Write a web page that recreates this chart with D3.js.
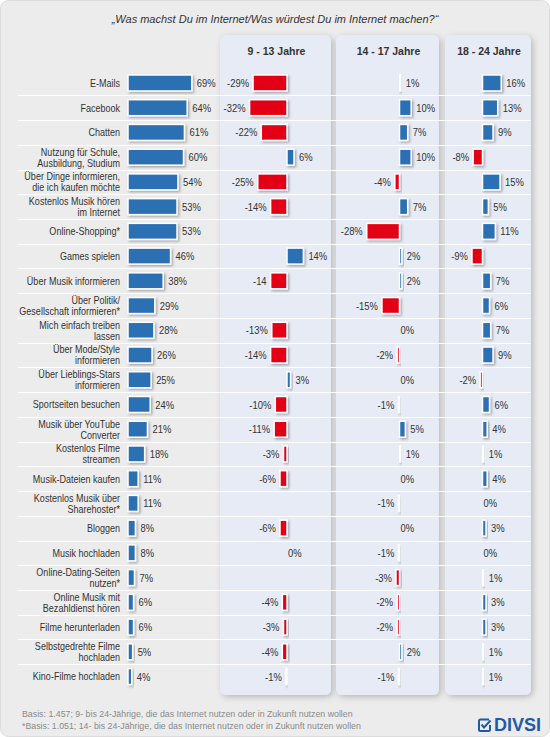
<!DOCTYPE html>
<html>
<head>
<meta charset="utf-8">
<script src="https://cdn.jsdelivr.net/npm/d3@7"></script>
<style>
  body { margin: 0; background: #fff; }
  text { font-family: "Liberation Sans", Arial, sans-serif; fill: #333; }
</style>
</head>
<body>
<svg width="550" height="737"></svg>
<script>
// Data
let activities = [
    'E-Mails', 'Facebook', 'Chatten', 'Nutzung für Schule,\nAusbildung, Studium',
    'Über Dinge informieren,\ndie ich kaufen möchte', 'Kostenlos Musik hören\nim Internet',
    'Online-Shopping*', 'Games spielen', 'Über Musik informieren',
    'Über Politik/\nGesellschaft informieren*', 'Mich einfach treiben\nlassen',
    'Über Mode/Style\ninformieren', 'Über Lieblings-Stars\ninformieren', 'Sportseiten besuchen',
    'Musik über YouTube\nConverter', 'Kostenlos Filme\nstreamen', 'Musik-Dateien kaufen',
    'Kostenlos Musik über\nSharehoster*', 'Bloggen', 'Musik hochladen',
    'Online-Dating-Seiten\nnutzen*', 'Online Musik mit\nBezahldienst hören', 'Filme herunterladen',
    'Selbstgedrehte Filme\nhochladen', 'Kino-Filme hochladen'
]
let total = [69, 64, 61, 60, 54, 53, 53, 46, 38, 29, 28, 26, 25, 24, 21, 18, 11, 11, 8, 8, 7, 6, 6, 5, 4]
let age9to13 = [-29, -32, -22, 6, -25, -14, null, 14, -14, null, -13, -14, 3, -10, -11, -3, -6, null, -6, 0, null, -4, -3, -4, -1]
let age14to17 = [1, 10, 7, 10, -4, 7, -28, 2, 2, -15, 0, -2, 0, -1, 5, 1, 0, -1, 0, -1, -3, -2, -2, 2, -1]
let age18to24 = [16, 13, 9, -8, 15, 5, 11, -9, 7, 6, 7, 9, -2, 6, 4, 1, 4, 0, 3, 0, 1, 3, 3, 1, 1]
let groupNames = ['9 - 13 Jahre', '14 - 17 Jahre', '18 - 24 Jahre']
// the source prints this one value without a percent sign
let noPercent = ['9 - 13 Jahre|Über Musik informieren']

let title = '„Was machst Du im Internet/Was würdest Du im Internet machen?“'
let notes = [
    'Basis: 1.457; 9- bis 24-Jährige, die das Internet nutzen oder in Zukunft nutzen wollen',
    '*Basis: 1.051; 14- bis 24-Jährige, die das Internet nutzen oder in Zukunft nutzen wollen'
]

let blue = '#2b6fb3'
let red = '#e30613'
// the chart uses a narrow face; squeeze the regular one
let squeeze = 0.82

let svg = d3.select('svg')
let defs = svg.append('defs')

defs.append('filter').attr('id', 'barShadow')
    .attr('x', '-30%').attr('y', '-30%').attr('width', '180%').attr('height', '180%')
    .append('feDropShadow')
    .attr('dx', 1.5).attr('dy', 1.5).attr('stdDeviation', 1.3)
    .attr('flood-color', '#000').attr('flood-opacity', 0.3)

defs.append('filter').attr('id', 'panelShadow')
    .attr('x', '-10%').attr('y', '-5%').attr('width', '130%').attr('height', '110%')
    .append('feDropShadow')
    .attr('dx', 2).attr('dy', 2).attr('stdDeviation', 3)
    .attr('flood-color', '#000').attr('flood-opacity', 0.22)

// Background
svg.append('rect')
    .attr('x', 0.5).attr('y', 0.5).attr('width', 549).attr('height', 736)
    .attr('rx', 8).attr('fill', '#ececec').attr('stroke', '#dcdcdc')

svg.append('text')
    .attr('x', 275).attr('y', 19).attr('dy', '0.35em')
    .attr('text-anchor', 'middle')
    .style('font-style', 'italic').style('font-size', '11px')
    .text(title)

// Scales
let y = d3.scaleBand().domain(activities).range([70.6, 688.9])
let xTotal = d3.scaleLinear().domain([0, 100]).range([128, 220.5])

let groups = [
    { name: groupNames[0], values: age9to13, panel: [220, 331], zero: 287 },
    { name: groupNames[1], values: age14to17, panel: [336, 439], zero: 399.5 },
    { name: groupNames[2], values: age18to24, panel: [445, 531], zero: 482.5 }
]
groups.forEach(g => {
    g.x = d3.scaleLinear().domain([-10, 10]).range([g.zero - 11.7, g.zero + 11.7])
})

// Panels
svg.append('g').selectAll('rect').data(groups).join('rect')
    .attr('x', d => d.panel[0]).attr('y', 35)
    .attr('width', d => d.panel[1] - d.panel[0]).attr('height', 660)
    .attr('rx', 6)
    .attr('fill', '#e7ebf5')
    .attr('filter', 'url(#panelShadow)')

svg.append('g').selectAll('text').data(groups).join('text')
    .attr('x', d => (d.panel[0] + d.panel[1]) / 2 + 1)
    .attr('y', 51).attr('dy', '0.35em')
    .attr('text-anchor', 'middle')
    .style('font-weight', 'bold').style('font-size', '10.5px')
    .text(d => d.name)

// Row separators
svg.append('g').selectAll('line').data(activities.slice(1)).join('line')
    .attr('x1', 17.5).attr('x2', 531)
    .attr('y1', d => Math.round(y(d)) + 0.5).attr('y2', d => Math.round(y(d)) + 0.5)
    .attr('stroke', '#fff').attr('stroke-width', 1)

let barH = 16
let mid = d => y(d) + y.bandwidth() / 2
let at = (x, yy) => `translate(${x},${yy}) scale(${squeeze},1)`

// Activity labels
let labels = svg.append('g').selectAll('text').data(activities).join('text')
    .attr('transform', d => at(120, mid(d)))
    .attr('text-anchor', 'end')
    .style('font-size', '11px')
labels.each(function (d) {
    let lines = d.split('\n')
    let t = d3.select(this)
    lines.forEach((line, i) => {
        t.append('tspan')
            .attr('x', 0)
            .attr('y', (i - (lines.length - 1) / 2) * 11)
            .attr('dy', '0.35em')
            .text(line)
    })
})

// Total bars
let rows = activities.map((a, i) => ({ a, v: total[i] }))
svg.append('g').selectAll('rect').data(rows).join('rect')
    .attr('x', xTotal(0))
    .attr('y', d => mid(d.a) - barH / 2)
    .attr('width', d => xTotal(d.v) - xTotal(0))
    .attr('height', barH)
    .attr('fill', blue)
    .attr('stroke', '#fff').attr('stroke-width', 1.5)
    .attr('filter', 'url(#barShadow)')

svg.append('g').selectAll('text').data(rows).join('text')
    .attr('transform', d => at(xTotal(d.v) + 5, mid(d.a)))
    .attr('dy', '0.35em')
    .style('font-size', '11.5px')
    .text(d => d.v + '%')

// Change bars per age group
groups.forEach(g => {
    let cells = activities.map((a, i) => ({ a, v: g.values[i] })).filter(d => d.v !== null)
    let layer = svg.append('g')
    layer.selectAll('rect').data(cells.filter(d => d.v !== 0)).join('rect')
        .attr('x', d => Math.min(g.x(0), g.x(d.v)))
        .attr('y', d => mid(d.a) - barH / 2)
        .attr('width', d => Math.abs(g.x(d.v) - g.x(0)))
        .attr('height', barH)
        .attr('fill', d => d.v < 0 ? red : blue)
        .attr('stroke', '#fff').attr('stroke-width', 1.5)
        .attr('filter', 'url(#barShadow)')
    layer.selectAll('text').data(cells).join('text')
        .attr('transform', d => at(d.v < 0 ? g.x(d.v) - 4 : g.x(d.v) + (d.v === 0 ? 1 : 5), mid(d.a)))
        .attr('dy', '0.35em')
        .attr('text-anchor', d => d.v < 0 ? 'end' : 'start')
        .style('font-size', '11.5px')
        .text(d => d.v + (noPercent.includes(g.name + '|' + d.a) ? '' : '%'))
})

// Footnotes
svg.append('g').selectAll('text').data(notes).join('text')
    .attr('x', 22)
    .attr('y', (d, i) => 714 + i * 12).attr('dy', '0.35em')
    .style('font-size', '8.8px')
    .style('fill', '#8a8a8a')
    .text(d => d)

// Logo
let logo = svg.append('g').attr('transform', 'translate(478, 718)')
logo.append('path')
    .attr('d', 'M11 1.5 H2.5 Q1 1.5 1 3 V11.5 Q1 13 2.5 13 H10.5 Q12 13 12 11.5 V7')
    .attr('fill', 'none').attr('stroke', '#1f5aa8').attr('stroke-width', 2)
logo.append('path')
    .attr('d', 'M3.5 6.5 L6 9.5 L12.5 2.5')
    .attr('fill', 'none').attr('stroke', '#1f5aa8').attr('stroke-width', 2)
logo.append('text')
    .attr('x', 16).attr('y', 13)
    .style('font-weight', 'bold').style('font-size', '18px')
    .style('fill', '#1f5aa8')
    .text('DIVSI')
</script>
</body>
</html>
